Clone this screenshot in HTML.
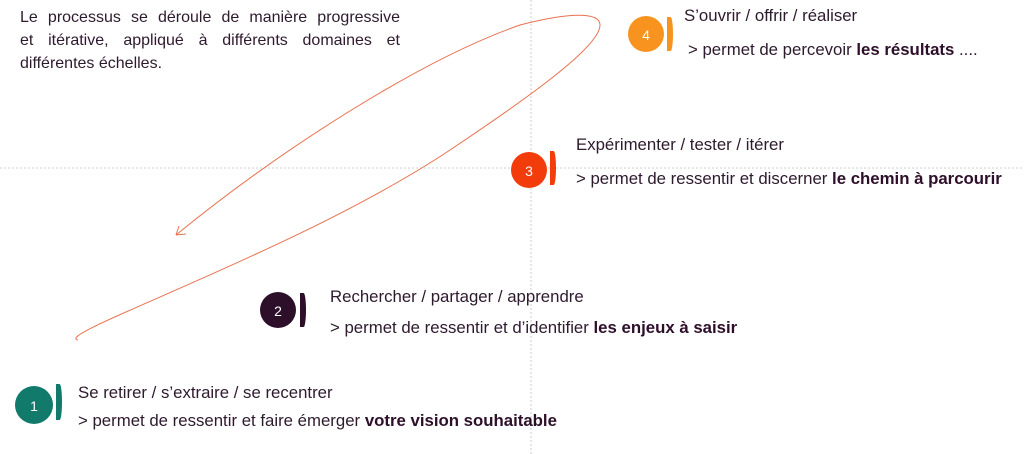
<!DOCTYPE html>
<html><head><meta charset="utf-8"><style>
body{margin:0;width:1024px;height:454px;background:#fff;position:relative;overflow:hidden;font-family:"Liberation Sans",sans-serif;color:#2e1a2e}
.t{position:absolute;font-size:16.8px;white-space:nowrap;letter-spacing:0px}
b{color:#2d0f2a}
.c{position:absolute;border-radius:50%;color:#fff;font-size:14px;text-align:center}
.br{position:absolute;width:6px;border-radius:0 40% 40% 0/0 50% 50% 0}
.p{position:absolute;left:20px;width:380px;font-size:16px;white-space:nowrap}
.j{text-align:justify;text-align-last:justify}
</style></head><body>
<svg width="1024" height="454" style="position:absolute;left:0;top:0">
<line x1="531" y1="0" x2="531" y2="454" stroke="#ccc" stroke-dasharray="2,2"/>
<line x1="0" y1="168" x2="1024" y2="168" stroke="#ccc" stroke-dasharray="2,2"/>
<path d="M 78 340 C 50 335, 300 250, 450 150 C 540 90, 600 45, 600 25 C 600 12, 570 12, 520 25 C 420 60, 280 150, 176 235" fill="none" stroke="#e8714f" stroke-width="1"/>
<path d="M 176 235 L 179 226 M 176 235 L 186 234" stroke="#e8714f" stroke-width="1" fill="none"/>
</svg>
<div class="p j" style="top:9px">Le processus se déroule de manière progressive</div>
<div class="p j" style="top:32px">et itérative, appliqué à différents domaines et</div>
<div class="p" style="top:55px">différentes échelles.</div>

<div class="c" style="left:628px;top:16px;width:36px;height:36px;line-height:38px;background:#f7931e">4</div>
<div class="br" style="left:667px;top:17px;height:34px;background:#f7931e"></div>
<div class="t" style="left:684px;top:6px">S’ouvrir / offrir / réaliser</div>
<div class="t" style="left:688px;top:40px">&gt; permet de percevoir <b>les résultats</b> ....</div>

<div class="c" style="left:511px;top:152px;width:36px;height:36px;line-height:38px;background:#f23c0c">3</div>
<div class="br" style="left:550px;top:151px;height:34px;background:#f23c0c"></div>
<div class="t" style="left:576px;top:135px">Expérimenter / tester / itérer</div>
<div class="t" style="left:576px;top:169px">&gt; permet de ressentir et discerner <b>le chemin à parcourir</b></div>

<div class="c" style="left:260px;top:292px;width:36px;height:36px;line-height:38px;background:#2d0f2a">2</div>
<div class="br" style="left:300px;top:293px;height:34px;background:#2d0f2a"></div>
<div class="t" style="left:330px;top:287px">Rechercher / partager / apprendre</div>
<div class="t" style="left:330px;top:318px">&gt; permet de ressentir et d’identifier <b>les enjeux à saisir</b></div>

<div class="c" style="left:15px;top:386px;width:38px;height:38px;line-height:40px;background:#117a6b">1</div>
<div class="br" style="left:56px;top:384px;height:36px;background:#117a6b"></div>
<div class="t" style="left:78px;top:383px">Se retirer / s’extraire / se recentrer</div>
<div class="t" style="left:78px;top:411px">&gt; permet de ressentir et faire émerger <b>votre vision souhaitable</b></div>
</body></html>
